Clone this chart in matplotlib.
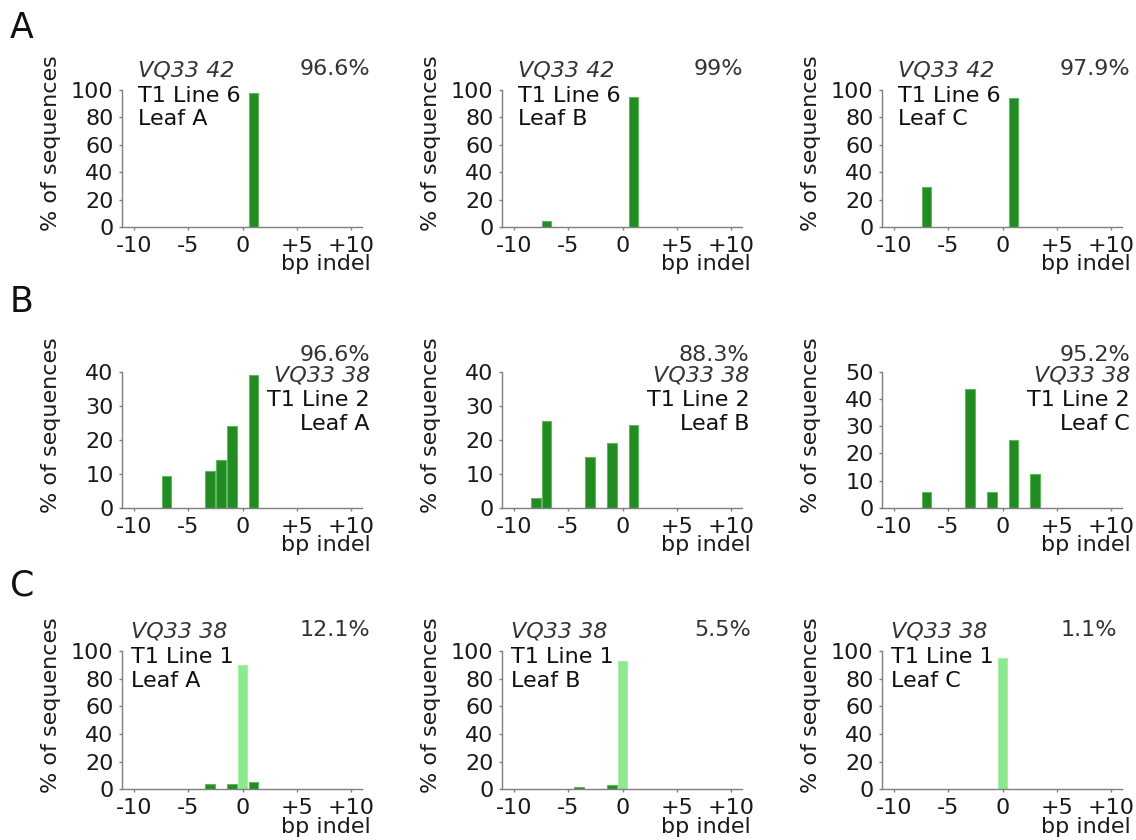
import matplotlib
matplotlib.use("Agg")
import matplotlib.pyplot as plt

# bar positions (bp indel) and heights (% of sequences), one list per leaf
indel_A = [[1], [-7, 1], [-7, 1]]
pct_A = [[98], [4.5, 95], [29, 94.5]]
indel_B = [[-7, -3, -2, -1, 1], [-8, -7, -3, -1, 1], [-7, -3, -1, 1, 3]]
pct_B = [[9.5, 11, 14, 24, 39], [3, 25.5, 15, 19, 24.5], [6, 43.5, 6, 25, 12.5]]
indel_C = [[-3, -1, 1], [-4, -1], []]
pct_C = [[3.5, 3.5, 5.5], [2, 3], []]
wt_pos_C = [0, 0, 0]
wt_pct_C = [90, 93, 95]

row_letters = ["A", "B", "C"]
constructs = ["VQ33 42", "VQ33 38", "VQ33 38"]
lines = ["T1 Line 6", "T1 Line 2", "T1 Line 1"]
leaves = ["Leaf A", "Leaf B", "Leaf C"]
edit_pct = [["96.6%", "99%", "97.9%"],
            ["96.6%", "88.3%", "95.2%"],
            ["12.1%", "5.5%", "1.1%"]]
y_max = [[100, 100, 100], [40, 40, 50], [100, 100, 100]]
y_step = [20, 10, 20]
x_ticks = [-10, -5, 0, 5, 10]
x_ticklabels = ["-10", "-5", "0", "+5", "+10"]

DARK = "#228b22"
LIGHT = "#8ee88e"
FS = 16

fig = plt.figure(figsize=(11.36, 8.4), dpi=100)
W, H = 1136.0, 840.0

col_left = [122, 502, 882]
row_top = [90, 371.7, 651]
row_bottom = [227, 508, 789.3]
pct_x = [[1.033, 1.006, 1.033], [1.033, 1.03, 1.033], [1.036, 1.036, 0.978]]
letter_y = [38, 312, 595]

data = [(indel_A, pct_A), (indel_B, pct_B), (indel_C, pct_C)]

for r in range(3):
    fig.text(10 / W, 1 - letter_y[r] / H, row_letters[r], fontsize=25,
             color="#111111", ha="left", va="baseline")
    for c in range(3):
        ax = fig.add_axes([col_left[c] / W, 1 - row_bottom[r] / H,
                           240 / W, (row_bottom[r] - row_top[r]) / H])
        pos, pct = data[r][0][c], data[r][1][c]
        if pos:
            ax.bar(pos, pct, width=0.9, color=DARK, edgecolor="#5fb85f", linewidth=0.8)
        if r == 2:
            ax.bar([wt_pos_C[c]], [wt_pct_C[c]], width=0.9, color=LIGHT,
                   edgecolor="#a8f0a8", linewidth=0.8)
        ax.set_xlim(-11.1, 11)
        ax.set_ylim(0, y_max[r][c])
        ax.set_xticks(x_ticks)
        ax.set_xticklabels(x_ticklabels)
        ax.set_yticks(range(0, y_max[r][c] + 1, y_step[r]))
        for s in ["top", "right"]:
            ax.spines[s].set_visible(False)
        for s in ["left", "bottom"]:
            ax.spines[s].set_color("#7f7f7f")
            ax.spines[s].set_linewidth(1.0)
        ax.tick_params(direction="out", length=2.5, width=1.0, color="#7f7f7f",
                       labelsize=FS, labelcolor="#1a1a1a", pad=3.5)
        ax.tick_params(axis="x", pad=4.0)

        ax.text(-0.296, 0.61, "% of sequences", transform=ax.transAxes, rotation=90,
                ha="center", va="center", fontsize=FS, color="#1a1a1a")
        ax.text(1.035, -0.315, "bp indel", transform=ax.transAxes,
                ha="right", va="baseline", fontsize=FS, color="#1a1a1a")

        if r == 1:
            ax.text(pct_x[r][c], 1.08, edit_pct[r][c], transform=ax.transAxes,
                    ha="right", va="baseline", fontsize=FS, color="#333333")
            ax.text(pct_x[r][c], 0.927, constructs[r], transform=ax.transAxes,
                    ha="right", va="baseline", fontsize=FS, color="#333333", style="italic")
            ax.text(pct_x[r][c], 0.748, lines[r], transform=ax.transAxes,
                    ha="right", va="baseline", fontsize=FS, color="#111111")
            ax.text(pct_x[r][c], 0.572, leaves[c], transform=ax.transAxes,
                    ha="right", va="baseline", fontsize=FS, color="#111111")
        else:
            tx = 0.067 if r == 0 else 0.036
            ax.text(pct_x[r][c], 1.112, edit_pct[r][c], transform=ax.transAxes,
                    ha="right", va="baseline", fontsize=FS, color="#333333")
            ax.text(tx, 1.097, constructs[r], transform=ax.transAxes,
                    ha="left", va="baseline", fontsize=FS, color="#333333", style="italic")
            ax.text(tx, 0.913, lines[r], transform=ax.transAxes,
                    ha="left", va="baseline", fontsize=FS, color="#111111")
            ax.text(tx, 0.742, leaves[c], transform=ax.transAxes,
                    ha="left", va="baseline", fontsize=FS, color="#111111")

fig.savefig("out.png", dpi=100, facecolor="white")
